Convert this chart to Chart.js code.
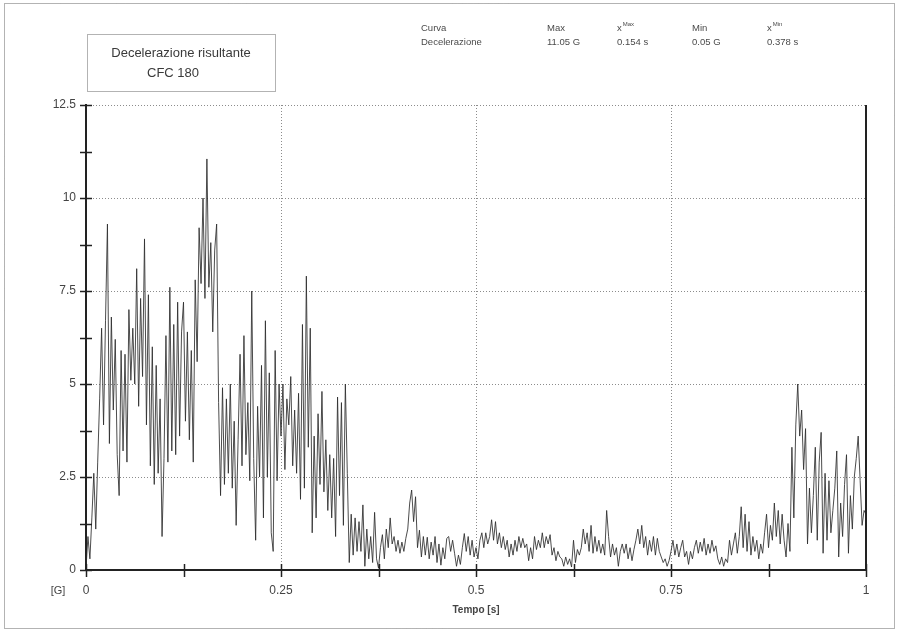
<!DOCTYPE html>
<html>
<head>
<meta charset="utf-8">
<script src="https://cdn.jsdelivr.net/npm/chart.js@4.4.1/dist/chart.umd.min.js"></script>
<style>
html,body{margin:0;padding:0;background:#fff;}
#wrap{width:898px;height:632px;position:relative;}
</style>
</head>
<body>
<div id="wrap"><canvas id="c" width="898" height="632"></canvas></div>
<script>
const decel_0_025 = [
  0.05, 0.9, 0.3, 1.4, 2.6, 1.1, 2.9, 4.6, 6.5, 3.9,
  6.7, 9.3, 3.4, 6.8, 4.3, 6.2, 3.1, 2.0, 5.9, 3.2,
  5.8, 2.9, 7.0, 5.1, 6.5, 5.0, 8.1, 4.4, 7.3, 5.2,
  8.9, 3.9, 7.4, 2.8, 6.0, 2.3, 5.5, 2.6, 4.6, 0.9,
  3.0, 6.3, 2.9, 7.6, 3.2, 6.6, 3.1, 7.2, 3.6, 6.4,
  7.2, 4.0, 6.4, 3.5, 5.9, 2.9, 7.8, 5.6, 9.2, 7.7,
  10.0, 7.3, 11.05, 7.6, 8.8, 6.4, 8.6, 9.3, 4.5, 2.0,
  4.9, 2.3, 4.6, 2.6, 5.0, 2.2, 4.0, 1.2, 3.5, 5.8,
  2.8, 6.3, 3.1, 4.5, 2.4, 7.5, 3.0, 0.8, 4.4, 2.5,
  5.5, 1.4, 6.7, 2.5, 5.3, 1.0, 0.5, 5.9, 2.4, 5.0
];
const decel_025_05 = [
  3.6, 5.0, 2.7, 4.6, 3.9, 5.2, 2.8, 4.3, 2.6, 4.75,
  1.9, 6.6, 2.2, 7.9, 3.3, 6.5, 1.0, 3.6, 1.4, 4.2,
  2.3, 4.8, 2.1, 3.5, 1.6, 3.1, 1.4, 3.0, 0.9, 4.65,
  2.0, 4.5, 1.2, 5.0, 2.6, 0.2, 1.5, 0.4, 1.4, 0.5,
  1.3, 0.5, 1.75, 0.1, 1.1, 0.3, 0.9, 0.2, 1.55, 0.3,
  0.05, 0.6, 0.95, 0.3, 1.1, 0.6, 1.4, 0.7, 0.9, 0.5,
  0.8, 0.45, 0.75, 0.5, 0.85, 1.1, 1.8, 2.15, 1.3, 1.97,
  0.6, 1.07, 0.35, 0.9, 0.4, 0.88, 0.3, 0.75, 0.4, 0.9,
  0.2, 0.7, 0.13, 0.6, 0.3, 0.85, 0.9, 0.5, 0.8, 0.45,
  0.1, 0.4, 0.15, 0.6, 0.98, 0.5, 0.9, 0.4, 0.8, 0.35
];
const decel_05_075 = [
  0.6, 0.3, 0.8, 1.0, 0.6, 1.0, 0.7, 0.9, 1.35, 0.8,
  1.3, 0.7, 1.0, 0.6, 0.9, 0.55, 0.8, 0.35, 0.7, 0.4,
  0.8, 0.5, 0.9, 0.6, 0.85, 0.6, 0.7, 0.25, 0.6, 0.3,
  0.9, 0.55, 0.8, 0.6, 1.0, 0.6, 0.9, 0.7, 0.95, 0.4,
  0.6, 0.25, 0.5, 0.35, 0.3, 0.1, 0.35, 0.15, 0.3, 0.08,
  0.8, 0.2, 0.55, 0.4, 0.6, 1.1, 0.7, 1.0, 0.5, 1.2,
  0.45, 0.9, 0.5, 0.8, 0.45, 0.7, 0.4, 1.6, 0.9, 0.35,
  0.7, 0.4, 0.6, 0.1, 0.5, 0.7, 0.45, 0.7, 0.3, 0.6,
  0.25, 0.55, 0.8, 1.1, 0.7, 1.2, 0.6, 0.9, 0.4, 0.8,
  0.5, 0.9, 0.4, 0.85, 0.5, 0.35, 0.2, 0.3, 0.1, 0.25
];
const decel_075_1 = [
  0.5, 0.8, 0.4, 0.7, 0.35, 0.6, 0.8, 0.35, 0.5, 0.15,
  0.5, 0.3, 0.6, 0.8, 0.45, 0.75, 0.5, 0.85, 0.4, 0.7,
  0.45, 0.8, 0.5, 0.65, 0.3, 0.15, 0.35, 0.1, 0.3, 0.2,
  0.8, 0.4, 0.7, 1.0, 0.45, 0.9, 1.7, 0.6, 1.5, 0.5,
  1.3, 0.4, 0.9, 0.5, 0.8, 0.3, 0.7, 0.45, 1.0, 1.5,
  0.6, 1.2, 0.8, 1.8, 0.9, 1.6, 0.7, 1.5, 0.8, 0.35,
  1.25, 0.5, 3.3, 1.4, 3.9, 5.0, 3.6, 4.3, 2.7, 3.8,
  0.7, 2.2, 1.0, 2.0, 3.3, 0.8, 2.9, 3.7, 0.45, 2.6,
  0.8, 2.4, 1.0, 1.6, 2.2, 3.2, 0.35, 1.8, 0.9, 2.3,
  3.1, 0.45, 2.0, 1.1, 2.5, 3.0, 3.6, 2.4, 1.2, 1.6,
  1.5
];
const sampleStep = 0.0025;           // s
const yTickValues = [0, 2.5, 5, 7.5, 10, 12.5];
const yTickLabels = ["0", "2.5", "5", "7.5", "10", "12.5"];
const xTickValues = [0, 0.25, 0.5, 0.75, 1];
const xTickLabels = ["0", "0.25", "0.5", "0.75", "1"];
const yMarkValues = [0, 1.25, 2.5, 3.75, 5, 6.25, 7.5, 8.75, 10, 11.25, 12.5];
const xMarkValues = [0, 0.125, 0.25, 0.375, 0.5, 0.625, 0.75, 0.875, 1];
const tableHeader = ["Curva", "Max", "x", "Min", "x"];
const tableSup = ["", "", "Max", "", "Min"];
const tableRow = ["Decelerazione", "11.05 G", "0.154 s", "0.05 G", "0.378 s"];
const titleLines = ["Decelerazione risultante", "CFC 180"];

const values = decel_0_025.concat(decel_025_05, decel_05_075, decel_075_1);
const points = values.map((v, i) => ({ x: Math.round(i * sampleStep * 10000) / 10000, y: v }));

const FONT = "'Liberation Sans', Arial, sans-serif";

const overlay = {
  id: 'overlay',
  afterDraw(chart) {
    const ctx = chart.ctx;
    const xs = chart.scales.x, ys = chart.scales.y;
    const ca = chart.chartArea;
    ctx.save();
    // outer dotted frame
    ctx.strokeStyle = '#666';
    ctx.lineWidth = 1;
    ctx.setLineDash([1, 1]);
    ctx.strokeRect(4.5, 3.5, 890, 625);
    // title box
    ctx.strokeStyle = '#666';
    ctx.strokeRect(87.5, 34.5, 188, 57);
    ctx.setLineDash([]);
    ctx.fillStyle = '#3a3a3a';
    ctx.textAlign = 'center';
    ctx.textBaseline = 'middle';
    ctx.font = '13px ' + FONT;
    ctx.fillText(titleLines[0], 181, 53);
    ctx.fillText(titleLines[1], 173, 73);
    // table
    const colX = [421, 547, 617, 692, 767];
    ctx.textAlign = 'left';
    ctx.fillStyle = '#4a4a4a';
    for (let i = 0; i < colX.length; i++) {
      ctx.font = '9.5px ' + FONT;
      ctx.fillText(tableHeader[i], colX[i], 28);
      if (tableSup[i]) {
        const w = ctx.measureText(tableHeader[i]).width;
        ctx.font = '6px ' + FONT;
        ctx.fillText(tableSup[i], colX[i] + w + 1, 24);
        ctx.font = '9.5px ' + FONT;
      }
      ctx.fillText(tableRow[i], colX[i], 42);
    }
    // right border
    ctx.strokeStyle = '#222';
    ctx.lineWidth = 2;
    ctx.beginPath();
    ctx.moveTo(ca.right, ca.top);
    ctx.lineTo(ca.right, ca.bottom + 1);
    ctx.stroke();
    // cross tick marks on axes
    ctx.lineWidth = 1.5;
    yMarkValues.forEach(v => {
      const y = Math.round(ys.getPixelForValue(v)) + 0.5;
      ctx.beginPath();
      ctx.moveTo(ca.left - 6, y);
      ctx.lineTo(ca.left + 6, y);
      ctx.stroke();
    });
    xMarkValues.forEach(v => {
      const x = Math.round(xs.getPixelForValue(v)) + 0.5;
      ctx.beginPath();
      ctx.moveTo(x, ca.bottom - 6);
      ctx.lineTo(x, ca.bottom + 7);
      ctx.stroke();
    });
    // axis unit labels
    ctx.fillStyle = '#444';
    ctx.font = '11px ' + FONT;
    ctx.textAlign = 'center';
    ctx.fillText('[G]', 58, 591);
    ctx.font = 'bold 10px ' + FONT;
    ctx.fillText('Tempo [s]', (ca.left + ca.right) / 2, 610);
    ctx.restore();
  }
};

new Chart(document.getElementById('c'), {
  type: 'line',
  data: {
    datasets: [{
      data: points,
      borderColor: 'rgba(45,45,45,0.85)',
      borderWidth: 1,
      pointRadius: 0,
      tension: 0,
      fill: false
    }]
  },
  options: {
    responsive: false,
    animation: false,
    layout: { padding: { left: 0, right: 32, top: 105, bottom: 0 } },
    plugins: { legend: { display: false }, tooltip: { enabled: false } },
    scales: {
      x: {
        type: 'linear',
        min: 0, max: 1,
        afterFit: s => { s.height = 62; },
        afterBuildTicks: s => { s.ticks = xTickValues.map(v => ({ value: v })); },
        ticks: {
          padding: 13, color: '#444', font: { family: FONT, size: 12 }, autoSkip: false, maxRotation: 0,
          callback: (v, i) => xTickLabels[i]
        },
        grid: { color: '#8c8c8c', lineWidth: 1, drawTicks: false },
        border: { display: true, color: '#222', width: 2, dash: [1, 2] }
      },
      y: {
        type: 'linear',
        min: 0, max: 12.5,
        afterFit: s => { s.width = 86; },
        afterBuildTicks: s => { s.ticks = yTickValues.map(v => ({ value: v })); },
        ticks: {
          padding: 10, color: '#444', font: { family: FONT, size: 12 },
          callback: (v, i) => yTickLabels[i]
        },
        grid: { color: '#8c8c8c', lineWidth: 1, drawTicks: false },
        border: { display: true, color: '#222', width: 2, dash: [1, 2] }
      }
    }
  },
  plugins: [overlay]
});
</script>
</body>
</html>
